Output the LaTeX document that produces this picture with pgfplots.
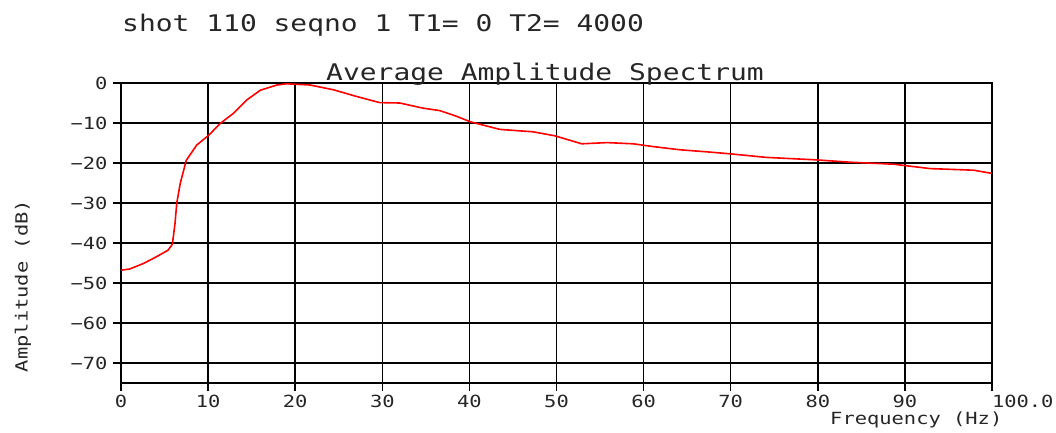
\documentclass[border=0pt]{standalone}
\usepackage{pgfplots}
\pgfplotsset{compat=1.18}
\usepackage{fontspec}
\newfontfamily\mono[FakeStretch=1.22]{DejaVu Sans Mono}
\newcommand{\smallf}{\mono\fontsize{16.8}{18}\selectfont}
\newcommand{\bigf}{\mono\fontsize{23}{24}\selectfont}
\begin{document}
\begin{tikzpicture}
\begin{axis}[
  at={(0,0)}, anchor=south west,
  scale only axis, width=871bp, height=300bp,
  xmin=0, xmax=100, ymin=-75, ymax=0,
  xtick={0,10,...,100},
  xticklabels={0,10,20,30,40,50,60,70,80,90,\makebox[0pt][l]{100.0}},
  ytick={-70,-60,...,0},
  yticklabels={−70,−60,−50,−40,−30,−20,−10,0},
  xtick pos=bottom, ytick pos=left,
  tick align=outside, major tick length=8bp,
  tick style={black, line width=1.5bp},
  grid=major,
  major grid style={black, line width=1.5bp},
  axis line style={black, line width=1.6bp},
  ticklabel style={font=\smallf, text=black!85},
  xticklabel style={yshift=-1bp},
  yticklabel style={xshift=-2bp},
  clip=false,
]
\addplot[red, line width=1.6bp] coordinates {
(0,-46.8) (1.0,-46.5) (2.6,-45.1) (4.1,-43.4) (5.4,-41.8) (5.9,-40.3)
(6.2,-35.1) (6.4,-30.1) (6.8,-25.1) (7.5,-19.3) (8.7,-15.5) (10.1,-13.0)
(11.4,-10.1) (12.9,-7.6) (14.4,-4.3) (16.0,-1.8) (17.9,-0.5) (19.0,-0.2)
(21.7,-0.5) (24.4,-1.7) (27.1,-3.4) (29.7,-4.9) (32.0,-5.0) (34.7,-6.3)
(36.6,-6.9) (38.5,-8.3) (40.1,-9.7) (43.5,-11.6) (47.3,-12.2) (49.8,-13.2)
(52.9,-15.2) (55.8,-14.9) (58.8,-15.2) (61.1,-15.9) (64.2,-16.7) (67.2,-17.2)
(69.9,-17.7) (74.1,-18.6) (79.7,-19.2) (83.7,-19.8) (88.7,-20.3) (92.9,-21.4)
(97.9,-21.8) (100,-22.6)
};
\end{axis}
\node[anchor=base, inner sep=0pt, text=black!85] at (424bp,302bp) {\bigf Average Amplitude Spectrum};
\node[anchor=base west, inner sep=0pt, text=black!85] at (1bp,351bp) {\bigf shot 110 seqno 1 T1= 0 T2= 4000};
\node[anchor=base west, inner sep=0pt, text=black!85] at (709bp,-41bp) {\smallf Frequency (Hz)};
\node[rotate=90, anchor=center, inner sep=0pt, text=black!85] at (-98bp,97bp) {\smallf Amplitude (dB)};
\pgfresetboundingbox
\path (-121bp,-50bp) rectangle (935bp,383bp);
\end{tikzpicture}
\end{document}
